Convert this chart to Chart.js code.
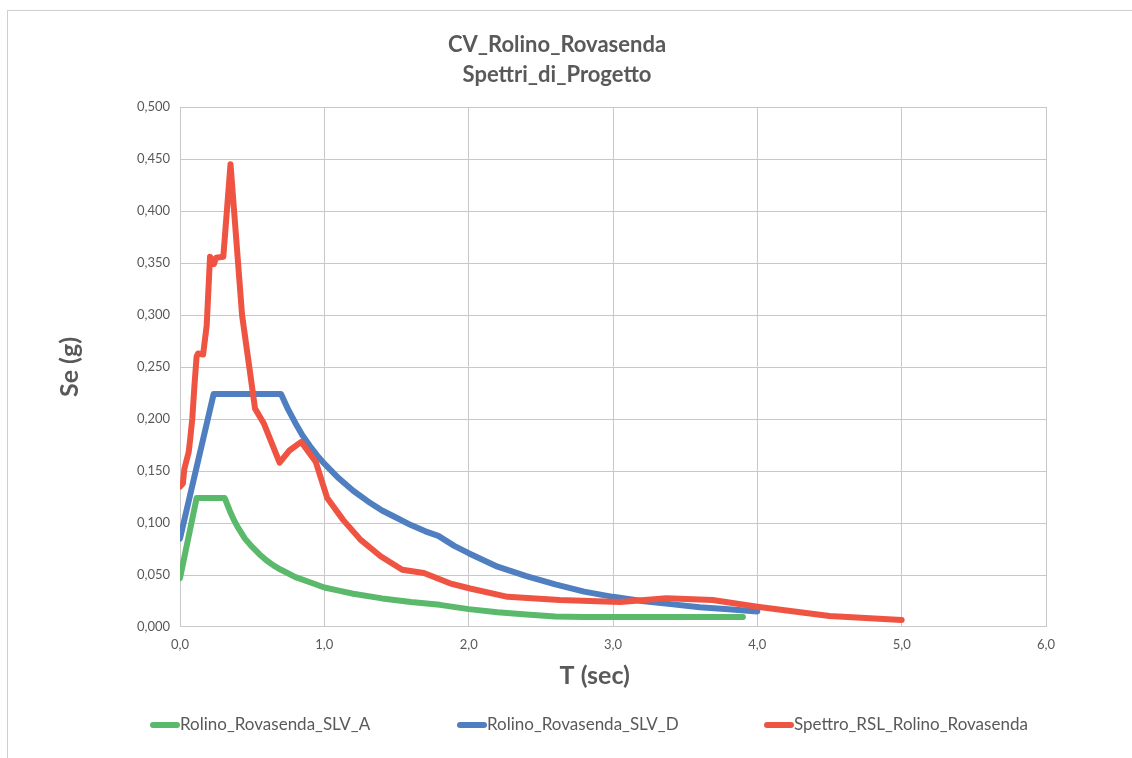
<!DOCTYPE html>
<html>
<head>
<meta charset="utf-8">
<script src="https://cdn.jsdelivr.net/npm/chart.js@4"></script>
<style>
  body { margin: 0; overflow: hidden; background: #fff; }
  #frame { position: absolute; left: 7px; top: 10px; width: 1200px; height: 800px; border: 1px solid #cfcfcf; }
  #myChart { position: absolute; left: 0; top: 0; }
</style>
</head>
<body>
<div id="frame"></div>
<canvas id="myChart" width="1132" height="758"></canvas>
<script>
// values
const tA = [0, 0.115, 0.31, 0.35, 0.375, 0.4, 0.45, 0.5, 0.55, 0.6, 0.65, 0.7, 0.8, 0.9, 1.0, 1.1, 1.2, 1.4, 1.6, 1.8, 2.0, 2.2, 2.4, 2.6, 2.8, 3.0, 3.2, 3.4, 3.6, 3.9];
const seA = [0.047, 0.124, 0.124, 0.110, 0.1025, 0.096, 0.085, 0.077, 0.070, 0.064, 0.059, 0.055, 0.048, 0.043, 0.038, 0.035, 0.032, 0.0275, 0.024, 0.0213, 0.0172, 0.0142, 0.012, 0.0102, 0.0095, 0.0095, 0.0095, 0.0095, 0.0095, 0.0095];

const tD = [0, 0.233, 0.70, 0.75, 0.8, 0.85, 0.9, 0.95, 1.0, 1.1, 1.2, 1.3, 1.4, 1.5, 1.6, 1.7, 1.79, 1.9, 2.0, 2.2, 2.4, 2.6, 2.8, 3.0, 3.2, 3.4, 3.6, 3.8, 4.0];
const seD = [0.085, 0.224, 0.224, 0.209, 0.196, 0.184, 0.174, 0.165, 0.157, 0.143, 0.131, 0.121, 0.112, 0.105, 0.098, 0.092, 0.0876, 0.078, 0.071, 0.058, 0.049, 0.041, 0.034, 0.029, 0.025, 0.022, 0.019, 0.017, 0.015];

const tRSL = [0, 0.02, 0.03, 0.045, 0.06, 0.07, 0.085, 0.10, 0.115, 0.125, 0.16, 0.185, 0.208, 0.235, 0.25, 0.30, 0.35, 0.43, 0.48, 0.52, 0.58, 0.69, 0.76, 0.84, 0.94, 1.02, 1.13, 1.25, 1.39, 1.54, 1.69, 1.87, 2.01, 2.27, 2.63, 3.05, 3.37, 3.69, 4.0, 4.5, 5.0];
const seRSL = [0.135, 0.138, 0.152, 0.160, 0.168, 0.180, 0.200, 0.232, 0.260, 0.263, 0.262, 0.290, 0.356, 0.349, 0.355, 0.356, 0.445, 0.300, 0.250, 0.210, 0.196, 0.158, 0.170, 0.178, 0.159, 0.124, 0.103, 0.084, 0.068, 0.055, 0.052, 0.042, 0.037, 0.029, 0.026, 0.024, 0.0276, 0.026, 0.0195, 0.0105, 0.0068];

const seriesNames = ['Rolino_Rovasenda_SLV_A', 'Rolino_Rovasenda_SLV_D', 'Spettro_RSL_Rolino_Rovasenda'];
const chartTitle = ['CV_Rolino_Rovasenda', 'Spettri_di_Progetto'];

const textColor = '#595959';
const gridColor = '#c8c8c8';

function toPoints(xs, ys) {
    return xs.map((x, i) => ({x: x, y: ys[i]}));
}

// legend drawn under the axis title, one column per series
const bottomLegend = {
    id: 'bottomLegend',
    afterDraw(chart) {
        const ctx = chart.ctx;
        const y = 725;
        ctx.save();
        ctx.font = '17px Lato';
        ctx.textBaseline = 'middle';
        ctx.textAlign = 'left';
        chart.data.datasets.forEach((ds, i) => {
            const x = 150 + i * 307;
            ctx.strokeStyle = ds.borderColor;
            ctx.lineWidth = 6;
            ctx.lineCap = 'round';
            ctx.beginPath();
            ctx.moveTo(x + 3, y);
            ctx.lineTo(x + 27, y);
            ctx.stroke();
            ctx.fillStyle = textColor;
            ctx.fillText(ds.label, x + 30, y);
        });
        ctx.restore();
    }
};

const ctx = document.getElementById('myChart').getContext('2d');
const myChart = new Chart(ctx, {
    type: 'line',
    data: {
        datasets: [
        {
            label: seriesNames[0],
            data: toPoints(tA, seA),
            borderColor: '#5bb96c',
            order: 2
        },
        {
            label: seriesNames[1],
            data: toPoints(tD, seD),
            borderColor: '#4f7fc0',
            order: 1
        },
        {
            label: seriesNames[2],
            data: toPoints(tRSL, seRSL),
            borderColor: '#ef5443',
            order: 0
        }
        ]
    },
    options: {
        responsive: false,
        animation: false,
        events: [],
        datasets: {
            line: {
                borderWidth: 6,
                pointRadius: 0,
                fill: false,
                tension: 0,
                borderCapStyle: 'round',
                borderJoinStyle: 'round'
            }
        },
        layout: {
            padding: {left: 68, right: 86, top: 20, bottom: 58}
        },
        plugins: {
            legend: {display: false},
            tooltip: {enabled: false},
            title: {
                display: true,
                text: chartTitle,
                color: textColor,
                font: {family: 'Lato', size: 22, weight: 'bold', lineHeight: 1.364},
                padding: {top: 10, bottom: 17}
            }
        },
        scales: {
            x: {
                type: 'linear',
                min: 0,
                max: 6,
                afterFit: (scale) => { scale.height = 73; },
                ticks: {
                    stepSize: 1,
                    padding: 10,
                    color: textColor,
                    font: {family: 'Lato', size: 13},
                    maxRotation: 0,
                    callback: (v) => v.toFixed(1).replace('.', ',')
                },
                grid: {color: gridColor, drawTicks: false},
                border: {color: gridColor},
                title: {
                    display: true,
                    text: 'T (sec)      ',
                    color: textColor,
                    font: {family: 'Lato', size: 25, weight: 'bold', lineHeight: 1.2},
                    padding: {top: 4, bottom: 9}
                }
            },
            y: {
                min: 0,
                max: 0.5,
                afterFit: (scale) => { scale.width = 112; },
                ticks: {
                    stepSize: 0.05,
                    padding: 10,
                    color: textColor,
                    font: {family: 'Lato', size: 13},
                    callback: (v) => v.toFixed(3).replace('.', ',')
                },
                grid: {color: gridColor, drawTicks: false},
                border: {color: gridColor},
                title: {
                    display: true,
                    text: 'Se (g)',
                    color: textColor,
                    font: {family: 'Lato', size: 25, weight: 'bold', lineHeight: 1.2},
                    padding: {top: -13, bottom: 4}
                }
            }
        }
    },
    plugins: [bottomLegend]
});
</script>
</body>
</html>
